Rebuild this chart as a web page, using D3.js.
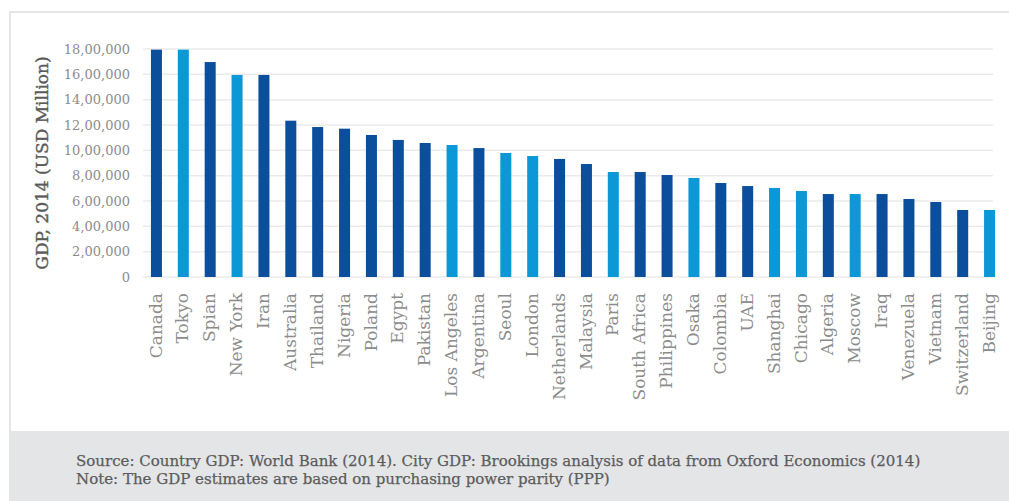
<!DOCTYPE html>
<html>
<head>
<meta charset="utf-8">
<script src="https://cdn.jsdelivr.net/npm/d3@7/dist/d3.min.js"></script>
<style>
  body { margin: 0; background: #fff; }
  svg { display: block; font-family: "DejaVu Serif", "Liberation Serif", serif; }
</style>
</head>
<body>
<div id="chart"></div>
<script>
// GDP 2014, USD million (PPP) - countries vs cities
const places = ["Canada", "Tokyo", "Spian", "New York", "Iran", "Australia", "Thailand", "Nigeria",
  "Poland", "Egypt", "Pakistan", "Los Angeles", "Argentina", "Seoul", "London", "Netherlands",
  "Malaysia", "Paris", "South Africa", "Philippines", "Osaka", "Colombia", "UAE", "Shanghai",
  "Chicago", "Algeria", "Moscow", "Iraq", "Venezuela", "Vietnam", "Switzerland", "Beijing"];
const gdp = [1795000, 1795000, 1697000, 1595000, 1595000, 1234000, 1184000, 1171000,
  1121000, 1082000, 1058000, 1042000, 1018000, 979000, 955000, 932000,
  892000, 829000, 829000, 805000, 782000, 742000, 718000, 703000,
  679000, 655000, 655000, 655000, 616000, 592000, 529000, 529000];
const kind = ["country", "city", "country", "city", "country", "country", "country", "country",
  "country", "country", "country", "city", "country", "city", "city", "country",
  "country", "city", "country", "country", "city", "country", "country", "city",
  "city", "country", "city", "country", "country", "country", "country", "city"];
const yTicks = [0, 200000, 400000, 600000, 800000, 1000000, 1200000, 1400000, 1600000, 1800000];
const yTitle = "GDP, 2014 (USD Million)";
const notes = ["Source: Country GDP: World Bank (2014). City GDP: Brookings analysis of data from Oxford Economics (2014)",
  "Note: The GDP estimates are based on purchasing power parity (PPP)"];

const fullwidth = 1009;
const fullheight = 501;
const colors = { country: "#0b4f9c", city: "#0c98d6" };

// indian style grouping: 18,00,000
function indianFormat(v) {
  var s = String(v);
  if (s.length <= 3) return s;
  var last = s.slice(-3);
  var rest = s.slice(0, -3);
  rest = rest.replace(/\B(?=(\d{2})+(?!\d))/g, ",");
  return rest + "," + last;
}

var svg = d3.select("#chart").append("svg").
attr("width", fullwidth).
attr("height", fullheight);

// frame + footer
svg.append("rect").
attr("x", 10).attr("y", 12).
attr("width", 1010).attr("height", 430).
attr("fill", "#fff").
attr("stroke", "#e6e6e6").
attr("stroke-width", 2);

svg.append("rect").
attr("x", 9).attr("y", 431).
attr("width", 1000).attr("height", 70).
attr("fill", "#e4e5e7");

var x = d3.scaleBand().
domain(places).
range([143, 1003]).
paddingInner(0.59).
paddingOuter(0.295);

var y = d3.scaleLinear().
domain([0, 1800000]).
range([277, 49]);

// gridlines
svg.append("g").
selectAll("line").
data(yTicks).
enter().append("line").
attr("x1", 143).
attr("x2", 993).
attr("y1", d => y(d)).
attr("y2", d => y(d)).
attr("stroke", "#ebebeb").
attr("stroke-width", 1.5);

// y axis labels
var yAxis = svg.append("g").
attr("transform", "translate(134,0)").
call(d3.axisLeft(y).tickValues(yTicks).tickFormat(indianFormat).tickSize(0).tickPadding(4));
yAxis.select(".domain").remove();
yAxis.selectAll("text").
attr("fill", "#8c8c8c").
style("font-size", "13px").
style("font-family", "DejaVu Serif");

// bars
svg.append("g").
selectAll("rect").
data(places).
enter().append("rect").
attr("x", d => x(d)).
attr("y", (d, i) => y(gdp[i])).
attr("width", x.bandwidth()).
attr("height", (d, i) => y(0) - y(gdp[i])).
attr("fill", (d, i) => colors[kind[i]]);

// x labels
var xAxis = svg.append("g").
attr("transform", "translate(0,290)").
call(d3.axisBottom(x).tickSize(0).tickPadding(0));
xAxis.select(".domain").remove();
xAxis.selectAll("text").
attr("transform", "rotate(-90)").
attr("text-anchor", "end").
attr("x", -3).
attr("y", 0).
attr("dy", "0.3em").
attr("fill", "#8c8c8c").
style("font-size", "17px").
style("font-family", "DejaVu Serif");

// y title
svg.append("text").
attr("transform", "translate(48,163) rotate(-90)").
attr("text-anchor", "middle").
attr("fill", "#5a5a5a").
attr("stroke", "#5a5a5a").
attr("stroke-width", 0.4).
style("font-size", "17px").
text(yTitle);

// footer notes
svg.append("g").
selectAll("text").
data(notes).
enter().append("text").
attr("x", 76).
attr("y", (d, i) => 466 + i * 18).
attr("fill", "#5c5c5c").
attr("stroke", "#5c5c5c").
attr("stroke-width", 0.25).
style("font-size", "15px").
text(d => d);
</script>
</body>
</html>
